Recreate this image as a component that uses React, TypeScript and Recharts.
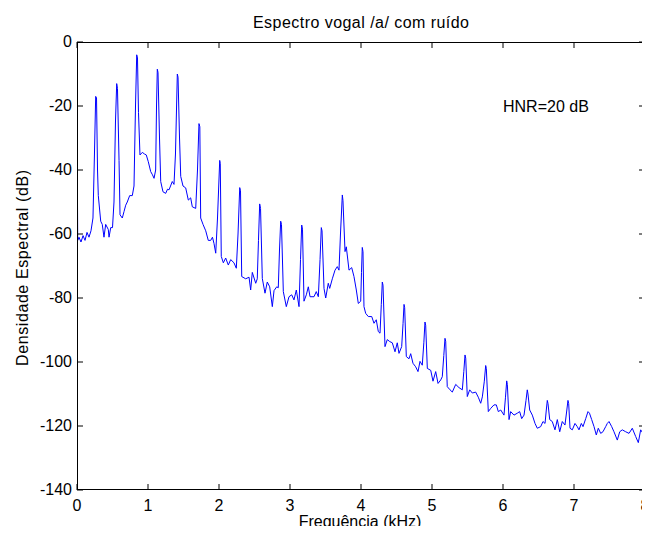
import React from 'react';
import { LineChart, Line, XAxis, YAxis, ReferenceDot } from 'recharts';

// ---- data: [frequency kHz, level dB] ----
const band0to1k: [number, number][] = [
  [0.000, -22], [0.010, -62], [0.028, -61], [0.056, -62.5], [0.085, -60.5], [0.113, -62], [0.141, -59.5],
  [0.169, -61], [0.197, -59], [0.225, -55], [0.246, -35], [0.263, -17], [0.275, -17.5], [0.289, -40],
  [0.300, -48], [0.334, -56], [0.356, -57], [0.380, -61], [0.404, -57], [0.441, -58.6], [0.451, -61],
  [0.475, -58], [0.500, -58], [0.521, -50], [0.542, -25], [0.559, -13], [0.570, -14.5], [0.592, -37],
  [0.606, -54], [0.638, -55], [0.662, -53], [0.686, -51], [0.708, -50], [0.742, -48], [0.779, -48],
  [0.803, -45], [0.824, -20], [0.841, -4], [0.852, -5], [0.866, -22], [0.887, -35.3], [0.920, -34.5],
  [0.951, -35], [0.976, -35.3],
];
const band1to2k: [number, number][] = [
  [1.004, -37.4], [1.038, -40.5], [1.063, -41.5], [1.085, -42.6], [1.108, -40], [1.120, -20], [1.131, -8.5],
  [1.141, -9.5], [1.162, -30], [1.179, -43.6], [1.211, -46.8], [1.249, -47.3], [1.275, -46], [1.296, -46.2],
  [1.342, -43.6], [1.366, -44.5], [1.387, -35], [1.413, -10], [1.423, -11], [1.444, -30], [1.461, -42],
  [1.493, -45], [1.531, -45.6], [1.568, -49.4], [1.601, -48.7], [1.624, -51.5], [1.672, -52], [1.697, -40],
  [1.718, -25.5], [1.730, -26.5], [1.742, -55], [1.775, -57], [1.813, -59], [1.849, -62], [1.883, -62],
  [1.908, -61], [1.930, -63], [1.954, -66], [1.979, -55],
];
const band2to3k: [number, number][] = [
  [2.010, -37], [2.018, -38], [2.032, -67], [2.061, -69], [2.094, -67.5], [2.131, -69.7], [2.165, -68],
  [2.211, -69], [2.244, -70.7], [2.268, -60], [2.292, -45.5], [2.303, -46.5], [2.320, -73.3], [2.376, -74],
  [2.423, -73.5], [2.446, -77.5], [2.469, -72], [2.517, -75.4], [2.539, -74], [2.556, -62], [2.573, -50.6],
  [2.585, -52], [2.610, -73.9], [2.648, -78.5], [2.680, -75], [2.714, -76.5], [2.751, -82.7], [2.775, -77.7],
  [2.813, -76.5], [2.835, -76.8], [2.852, -65], [2.869, -56], [2.880, -57], [2.906, -78], [2.948, -82.7],
  [2.986, -79.6],
];
const band3to4k: [number, number][] = [
  [3.024, -79], [3.056, -80.6], [3.089, -77.5], [3.127, -82.7], [3.148, -68], [3.165, -57.2], [3.176, -58.5],
  [3.197, -81], [3.230, -79], [3.258, -76.5], [3.282, -79.6], [3.338, -79.6], [3.370, -78], [3.399, -79.6],
  [3.423, -68], [3.441, -58], [3.451, -59], [3.479, -77], [3.503, -80], [3.539, -75.4], [3.559, -77],
  [3.596, -74], [3.634, -71.3], [3.666, -70.2], [3.690, -71.3], [3.711, -60], [3.737, -47.8], [3.746, -49.5],
  [3.775, -65.5], [3.793, -64], [3.831, -71.3], [3.869, -70.5], [3.901, -73.3], [3.934, -77.5], [3.962, -81.7],
  [3.996, -81], [4.007, -72],
];
const band4to5k: [number, number][] = [
  [4.018, -64.2], [4.028, -65.5], [4.042, -82.7], [4.066, -84.8], [4.103, -85.8], [4.151, -85.8], [4.183, -87.9],
  [4.215, -86.8], [4.244, -90.5], [4.268, -91], [4.286, -82], [4.300, -75], [4.310, -76], [4.338, -95.2],
  [4.370, -93], [4.404, -93.6], [4.441, -94], [4.479, -96.8], [4.511, -94], [4.535, -97.3], [4.573, -95.2],
  [4.592, -88], [4.606, -82], [4.615, -83], [4.638, -98.3], [4.676, -99], [4.700, -97.4], [4.732, -100.4],
  [4.770, -101.5], [4.803, -103], [4.831, -99.8], [4.863, -101], [4.885, -94], [4.901, -87.5], [4.911, -88.5],
  [4.934, -102], [4.982, -102.6],
];
const band5to6k: [number, number][] = [
  [5.014, -106], [5.052, -103], [5.085, -106.7], [5.123, -105.6], [5.145, -104.6], [5.166, -98], [5.183, -92.6],
  [5.193, -93.5], [5.215, -107.7], [5.254, -108.7], [5.286, -109.4], [5.334, -107], [5.380, -108], [5.427, -108.7],
  [5.448, -103], [5.465, -97.8], [5.475, -98.8], [5.497, -110.8], [5.531, -108.7], [5.568, -109.7], [5.615, -109.4],
  [5.652, -111], [5.686, -112.9], [5.709, -110.9], [5.737, -106], [5.756, -101.1], [5.765, -102], [5.793, -115.5],
  [5.827, -114.5], [5.873, -113.4], [5.906, -113.4], [5.934, -115.5], [5.968, -115],
];
const band6to7k: [number, number][] = [
  [6.014, -116.6], [6.035, -111], [6.052, -105.9], [6.061, -107], [6.085, -118], [6.108, -115.5], [6.155, -116.6],
  [6.201, -116], [6.235, -115.5], [6.263, -117.7], [6.296, -116.6], [6.324, -112], [6.342, -108.7], [6.352, -110],
  [6.376, -115], [6.413, -116.6], [6.451, -119.2], [6.483, -120.7], [6.531, -120.2], [6.563, -118.6], [6.592, -119.2],
  [6.610, -115], [6.624, -112], [6.634, -113], [6.658, -118], [6.694, -118.6], [6.732, -121.2], [6.765, -118],
  [6.799, -121.8], [6.835, -118.6], [6.873, -119.7], [6.899, -115], [6.915, -112], [6.925, -113], [6.944, -120.7],
  [6.976, -121.2],
];
const band7to8k: [number, number][] = [
  [7.014, -119.2], [7.046, -120.2], [7.070, -121.2], [7.103, -119.2], [7.127, -120.2], [7.165, -117.7],
  [7.197, -115.5], [7.218, -116], [7.249, -118], [7.282, -120.2], [7.314, -122.8], [7.342, -120.7], [7.376, -122.3],
  [7.408, -121.8], [7.446, -120.2], [7.469, -119.2], [7.493, -118.6], [7.531, -120.2], [7.563, -121.8], [7.610, -124.4],
  [7.644, -121.8], [7.680, -121.2], [7.728, -121.8], [7.775, -122.3], [7.821, -120.7], [7.869, -123.3], [7.906, -125.2],
  [7.939, -121.2], [7.972, -122.3], [8.000, -122.3],
];

const xTicks = [0, 1, 2, 3, 4, 5, 6, 7, 8];
const yTicks = [-140, -120, -100, -80, -60, -40, -20, 0];
const annotation = { f: 6, db: -20, text: 'HNR=20 dB' };
const titleText = 'Espectro vogal /a/ com ruído';
const xLabelText = 'Frequência (kHz)';
const yLabelText = 'Densidade Espectral (dB)';

const data = [...band0to1k, ...band1to2k, ...band2to3k, ...band3to4k, ...band4to5k, ...band5to6k, ...band6to7k, ...band7to8k]
  .map(([f, db]) => ({ f, db }));

// ---- layout ----
const FONT = '"Liberation Sans", Arial, Helvetica, sans-serif';
const W = 642;
const H = 518;
const M = { top: 34, right: 5, bottom: 0, left: 0 };
const Y_AXIS_W = 69;
const X_AXIS_H = 36;
const PLOT_W = W - M.left - M.right - Y_AXIS_W;
const PLOT_H = H - M.top - M.bottom - X_AXIS_H;
const TICK = 6;

const XTick = (props: any) => {
  const { x, y, payload } = props;
  return (
    <g>
      <line x1={x} y1={y} x2={x} y2={y - TICK} stroke="#000" />
      <line x1={x} y1={y - PLOT_H} x2={x} y2={y - PLOT_H + TICK} stroke="#000" />
      <text x={x} y={y + 20.5} textAnchor="middle" fontSize={16} fontFamily={FONT} fill="#000">
        {payload.value}
      </text>
    </g>
  );
};

const YTick = (props: any) => {
  const { x, y, payload } = props;
  return (
    <g>
      <line x1={x} y1={y} x2={x + TICK} y2={y} stroke="#000" />
      <line x1={x + PLOT_W} y1={y} x2={x + PLOT_W - TICK} y2={y} stroke="#000" />
      <text x={x - 5} y={y + 5} textAnchor="end" fontSize={16} fontFamily={FONT} fill="#000">
        {payload.value}
      </text>
    </g>
  );
};

const AnnotationShape = (props: any) => (
  <text x={props.cx} y={props.cy} dominantBaseline="central" fontSize={16} fontFamily={FONT} fill="#000">
    {annotation.text}
  </text>
);

export default function App() {
  const plotX = M.left + Y_AXIS_W;
  const plotY = M.top;
  const plotCx = plotX + PLOT_W / 2;
  const plotCy = plotY + PLOT_H / 2;
  return (
    <div style={{ position: 'relative', width: W, height: H }}>
      <style>{'html, body { overflow: hidden; }'}</style>
      <LineChart width={W} height={H} data={data} margin={M}>
        <XAxis dataKey="f" type="number" domain={[0, 8]} ticks={xTicks} height={X_AXIS_H}
          tickSize={0} tickMargin={0} tickLine={false} axisLine={false} tick={<XTick />} interval={0} allowDataOverflow />
        <YAxis type="number" domain={[-140, 0]} ticks={yTicks} width={Y_AXIS_W}
          tickSize={0} tickMargin={0} tickLine={false} axisLine={false} tick={<YTick />} interval={0} allowDataOverflow />
        <Line type="linear" dataKey="db" stroke="#0000ff" strokeWidth={1} dot={false} activeDot={false} isAnimationActive={false} />
        <ReferenceDot x={annotation.f} y={annotation.db} r={0} ifOverflow="visible" shape={<AnnotationShape />} />
      </LineChart>
      <svg width={W} height={H} overflow="visible"
        style={{ position: 'absolute', left: 0, top: 0, pointerEvents: 'none', overflow: 'visible' }}>
        {/* axes frame (box) around the plot area */}
        <rect x={plotX + 0.5} y={plotY + 0.5} width={PLOT_W} height={PLOT_H - 1} fill="none" stroke="#000" strokeWidth={1} />
        <text x={plotCx} y={20} textAnchor="middle" fontSize={16} fontFamily={FONT} fill="#000" textLength={216} lengthAdjust="spacing">
          {titleText}
        </text>
        <text x={plotCx - 1} y={519} textAnchor="middle" fontSize={16} fontFamily={FONT} fill="#000">{xLabelText}</text>
        <text x={0} y={0} transform={`translate(20, ${plotCy + 2}) rotate(-90)`} textAnchor="middle" fontSize={16}
          fontFamily={FONT} fill="#000" textLength={196} lengthAdjust="spacing">
          {yLabelText}
        </text>
      </svg>
    </div>
  );
}
